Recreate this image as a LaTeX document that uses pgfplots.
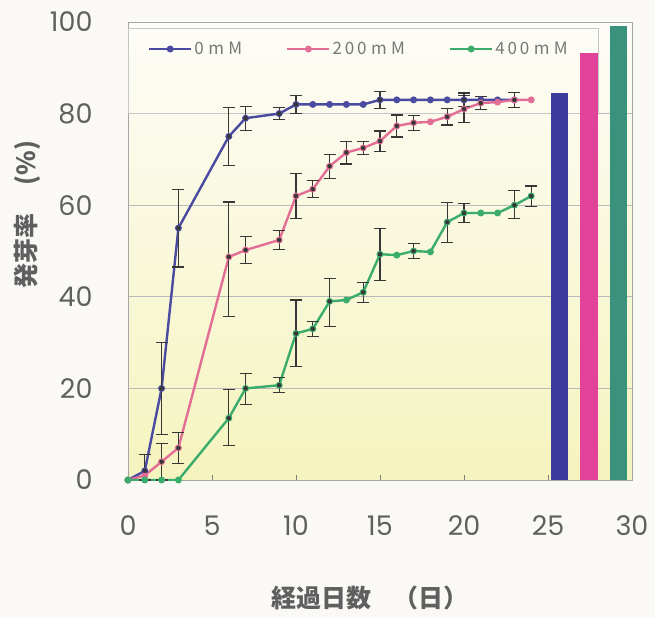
\documentclass[border=0pt]{standalone}
\usepackage{fontspec}
\setmainfont{Noto Sans CJK JP}
\newfontfamily\numfont{Poppins}
\newfontfamily\legfont[LetterSpace=26]{Noto Sans CJK JP}
\usepackage{pgfplots}
\pgfplotsset{compat=1.18}
\usetikzlibrary{backgrounds}
\definecolor{lblue}{RGB}{74,74,160}
\definecolor{lpink}{RGB}{226,110,150}
\definecolor{lgreen}{RGB}{58,172,108}
\definecolor{bblue}{RGB}{60,60,156}
\definecolor{bpink}{RGB}{226,66,154}
\definecolor{bgreen}{RGB}{58,146,124}
\definecolor{errgray}{RGB}{55,55,55}
\definecolor{tickgray}{RGB}{95,95,95}
\definecolor{leggray}{RGB}{120,120,120}
\definecolor{pagebg}{RGB}{250,249,245}
\definecolor{bgy1}{RGB}{245,244,190}
\definecolor{bgy2}{RGB}{249,248,222}
\definecolor{bgy3}{RGB}{253,252,248}

\pgfplotstableread{
x y
0 0
1 2
2 20
3 55
6 75
7 79
9 80
10 82
11 82
12 82
13 82
14 82
15 83
16 83
17 83
18 83
19 83
20 83
21 83
22 83
23 83
}\blue
\pgfplotstableread{
x y
0 0
1 1
2 4
3 7
6 48.7
7 50.2
9 52.4
10 62
11 63.5
12 68.5
13 71.5
14 72.5
15 74
16 77.3
17 78
18 78.2
19 79.3
20 81
21 82.3
22 82.5
23 83
24 83
}\pink
\pgfplotstableread{
x y
0 0
1 0
2 0
3 0
6 13.5
7 20
9 20.7
10 32
11 33
12 39
13 39.3
14 41
15 49.3
16 49.1
17 50
18 49.8
19 56.3
20 58.3
21 58.3
22 58.3
23 60
24 62
}\green
\pgfplotstableread{
x y p m
1 2 3.5 2
2 20 10 10
3 55 8.5 8.5
6 75 6.3 6.3
7 79 2.6 2.6
9 80 1.3 1.3
10 82 2 2
15 83 1.8 1.8
20 83 1.5 1.5
}\blueerr
\pgfplotstableread{
x y p m
2 4 4 4
3 7 3.3 3.3
6 48.7 12 13
7 50.2 3 3
9 52.4 2 2
10 62 5 5
11 63.5 1.8 1.8
12 68.5 2.6 2.6
13 71.5 2.5 2.5
14 72.5 1.5 1.5
15 74 2.2 2.2
16 77.3 2.4 2.4
17 78 1.6 1.6
19 79.3 1.8 1.8
20 81 3 3
21 82.3 1.5 1.5
23 83 1.6 1.6
}\pinkerr
\pgfplotstableread{
x y p m
6 13.5 6.3 6
7 20 3.3 3.5
9 20.7 1.6 1.6
10 32 7.3 7.3
11 33 1.6 1.6
12 39 5 5.5
14 41 2.2 2.2
15 49.3 5.6 5.8
17 50 1.6 1.6
19 56.3 4.3 4.5
20 58.3 2.1 2.1
23 60 3.2 3
24 62 2.2 2.2
}\greenerr

\pgfplotsset{errstyle/.style={forget plot, only marks, mark=none, errgray,
  error bars/.cd, y dir=both, y explicit, error mark=-,
  error bar style={line width=1.1pt, errgray},
  error mark options={rotate=90, errgray, line width=1.1pt, mark size=6pt}}}

\begin{document}
\begin{tikzpicture}
\begin{axis}[
  scale only axis, width=504pt, height=458pt,
  xmin=0, xmax=30, ymin=0, ymax=100,
  xtick={0,5,...,30}, ytick={0,20,...,100},
  axis line style={gray!70, line width=0.8pt},
  ymajorgrids, grid style={gray!55, line width=0.7pt},
  tick label style={font=\numfont\fontsize{27}{30}\selectfont, text=tickgray},
  /pgf/number format/assume math mode=true,
  yticklabel style={xshift=-32pt},
  xticklabel style={yshift=-32pt},
  xtick pos=bottom, ytick pos=left,
  ytick style={draw=none},
  xtick style={gray, line width=0.6pt},
  major tick length=5pt, tick align=inside,
  axis background/.style={bottom color=bgy1, middle color=bgy2, top color=bgy3},
  xlabel={経過日数\hspace{22pt}（日）},
  ylabel={発芽率\hspace{28pt}(\%)},
  every axis x label/.style={at={(axis description cs:0.48,-0.258)}, anchor=center,
     font=\fontsize{25}{28}\selectfont\bfseries, text=tickgray},
  every axis y label/.style={at={(axis description cs:-0.2,0.58)}, anchor=center, rotate=90,
     font=\fontsize{25}{28}\selectfont\bfseries, text=tickgray},
  legend columns=3,
  legend style={at={(axis cs:1.0,94.1)}, anchor=west, draw=none, fill=none,
    font=\legfont\fontsize{17}{19}\selectfont, text=leggray,
    /tikz/every even column/.append style={column sep=42pt}},
  legend image code/.code={\draw[mark repeat=2,mark phase=2,#1] plot coordinates {(0pt,0pt) (21pt,0pt) (42pt,0pt)};},
]
\draw[gray!45, line width=0.8pt] (axis cs:0.05,98.7) rectangle (axis cs:28.0,80);
\addplot[ybar, bar width=17pt, bar shift=0pt, fill=bblue, draw=none, forget plot] coordinates {(25.7,84.5)};
\addplot[ybar, bar width=18pt, bar shift=0pt, fill=bpink, draw=none, forget plot] coordinates {(27.45,93.2)};
\addplot[ybar, bar width=17pt, bar shift=0pt, fill=bgreen, draw=none, forget plot] coordinates {(29.2,99.1)};

\addplot[lblue, line width=2.4pt, mark=*, mark size=2.2pt] table[x=x,y=y] {\blue};
\addlegendentry{0mM}
\addplot[lpink, line width=2.4pt, mark=*, mark size=2.2pt] table[x=x,y=y] {\pink};
\addlegendentry{2\,0\,0mM}
\addplot[lgreen, line width=2.4pt, mark=*, mark size=2.2pt] table[x=x,y=y] {\green};
\addlegendentry{4\,0\,0mM}

\addplot[errstyle] table[x=x, y=y, y error plus=p, y error minus=m] {\blueerr};
\addplot[errstyle] table[x=x, y=y, y error plus=p, y error minus=m] {\pinkerr};
\addplot[errstyle] table[x=x, y=y, y error plus=p, y error minus=m] {\greenerr};
\coordinate (bl) at (rel axis cs:0,0);
\coordinate (tr) at (rel axis cs:1,1);
\end{axis}
\pgfresetboundingbox
\path[use as bounding box] ([shift={(-128pt,-138pt)}]bl) rectangle ([shift={(23pt,22pt)}]tr);
\begin{pgfonlayer}{background}
\fill[pagebg] ([shift={(-128pt,-138pt)}]bl) rectangle ([shift={(23pt,22pt)}]tr);
\end{pgfonlayer}
\end{tikzpicture}
\end{document}
